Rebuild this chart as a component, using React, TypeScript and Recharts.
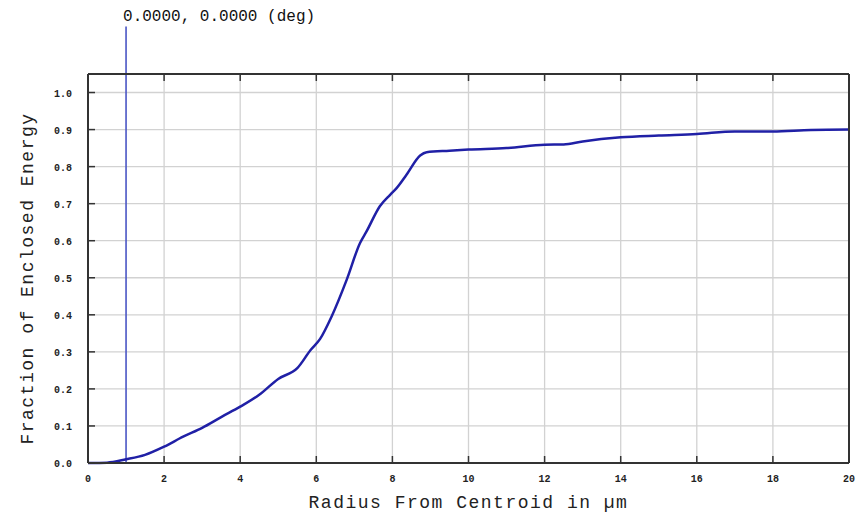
import React from "react";
import { LineChart, Line, XAxis, YAxis, CartesianGrid, ReferenceLine } from "recharts";

// radius from centroid (µm) and fraction of enclosed energy
const radius = [
  0, 0.5, 1, 1.5, 2, 2.5, 3, 3.5, 4, 4.5, 5, 5.5, 5.85, 6.1, 6.4, 6.8, 7.15, 7.32,
  7.67, 7.94, 8.11, 8.37, 8.73, 8.9, 9.5, 10, 11, 12, 12.5, 13, 14, 15, 16, 17, 18,
  19, 20,
];
const energy = [
  0, 0.001, 0.01, 0.022, 0.044, 0.071, 0.095, 0.124, 0.152, 0.184, 0.227, 0.256,
  0.305, 0.335, 0.395, 0.495, 0.594, 0.625, 0.693, 0.724, 0.742, 0.778, 0.83,
  0.839, 0.843, 0.846, 0.85, 0.859, 0.86, 0.868, 0.879, 0.884, 0.888, 0.895,
  0.895, 0.899, 0.9,
];
const xTicks = [0, 2, 4, 6, 8, 10, 12, 14, 16, 18, 20];
const yTicks = [0, 0.1, 0.2, 0.3, 0.4, 0.5, 0.6, 0.7, 0.8, 0.9, 1.0];
const fieldLabel = "0.0000, 0.0000 (deg)";
const fieldRadius = 1;

const data = radius.map((r, i) => ({ r, e: energy[i] }));

const mono = "'Liberation Mono', 'DejaVu Sans Mono', monospace";
const frame = "#333";

const BottomTick = (props: any) => {
  const { x, y, payload } = props;
  return (
    <g>
      <line x1={x} y1={y} x2={x} y2={y - 7} stroke={frame} strokeWidth={1.5} />
      <text x={x} y={y + 19} textAnchor="middle" fontFamily={mono} fontSize={10} fontWeight="bold" fill="#222">
        {payload.value}
      </text>
    </g>
  );
};

const TopTick = (props: any) => {
  const { x, y } = props;
  return <line x1={x} y1={y} x2={x} y2={y + 7} stroke={frame} strokeWidth={1.5} />;
};

const LeftTick = (props: any) => {
  const { x, y, payload } = props;
  return (
    <g>
      <line x1={x} y1={y} x2={x + 7} y2={y} stroke={frame} strokeWidth={1.5} />
      <text x={x - 16} y={y + 4} textAnchor="end" fontFamily={mono} fontSize={10} fontWeight="bold" fill="#222">
        {Number(payload.value).toFixed(1)}
      </text>
    </g>
  );
};

const RightTick = (props: any) => {
  const { x, y } = props;
  return <line x1={x} y1={y} x2={x - 7} y2={y} stroke={frame} strokeWidth={1.5} />;
};

export default function App() {
  return (
    <div style={{ position: "absolute", left: 0, top: 0, width: 865, height: 515, background: "#fff" }}>
      <LineChart width={865} height={515} data={data} margin={{ top: 73, right: 15, bottom: 0, left: 58 }}>
        <CartesianGrid stroke="#d2d2d2" strokeWidth={1.3} />
        <XAxis
          dataKey="r"
          type="number"
          domain={[0, 20]}
          ticks={xTicks}
          height={52}
          tickSize={0}
          tickMargin={0}
          tick={BottomTick}
          axisLine={{ stroke: frame, strokeWidth: 2 }}
          label={{
            value: "Radius From Centroid in µm",
            position: "center",
            dy: 13,
            style: { fontFamily: mono, fontSize: 18, letterSpacing: 1.5, fill: "#222" },
          }}
        />
        <XAxis
          xAxisId="top"
          orientation="top"
          dataKey="r"
          type="number"
          domain={[0, 20]}
          ticks={xTicks}
          height={1}
          tickSize={0}
          tickMargin={0}
          tick={TopTick}
          axisLine={{ stroke: frame, strokeWidth: 2 }}
        />
        <YAxis
          type="number"
          domain={[0, 1.05]}
          ticks={yTicks}
          width={30}
          tickSize={0}
          tickMargin={0}
          tick={LeftTick}
          axisLine={{ stroke: frame, strokeWidth: 2 }}
          label={{
            value: "Fraction of Enclosed Energy",
            angle: -90,
            position: "center",
            dx: -46,
            dy: 10,
            style: { fontFamily: mono, fontSize: 18, letterSpacing: 1.5, fill: "#222", textAnchor: "middle" },
          }}
        />
        <YAxis
          yAxisId="right"
          orientation="right"
          type="number"
          domain={[0, 1.05]}
          ticks={yTicks}
          width={1}
          tickSize={0}
          tickMargin={0}
          tick={RightTick}
          axisLine={{ stroke: frame, strokeWidth: 2 }}
        />
        <ReferenceLine
          segment={[
            { x: fieldRadius, y: 0 },
            { x: fieldRadius, y: 1.178 },
          ]}
          ifOverflow="visible"
          stroke="#4a55c4"
          strokeWidth={1.6}
          label={{
            content: (props: any) => {
              const vb = props.viewBox || {};
              return (
                <text x={vb.x - 3} y={vb.y - 6} fontFamily={mono} fontSize={16} fill="#111">
                  {fieldLabel}
                </text>
              );
            },
          }}
        />
        <Line
          type="monotone"
          dataKey="e"
          stroke="#2020a6"
          strokeWidth={2.5}
          dot={false}
          isAnimationActive={false}
        />
      </LineChart>
    </div>
  );
}
